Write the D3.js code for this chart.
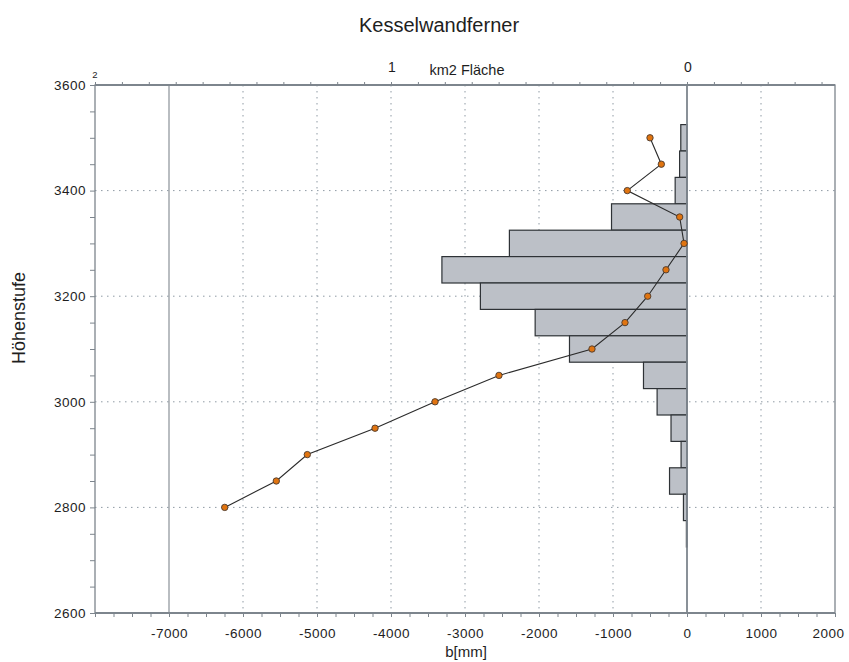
<!DOCTYPE html>
<html><head><meta charset="utf-8">
<script src="https://cdn.jsdelivr.net/npm/d3@7"></script>
<style>body{margin:0;background:#fff}svg{display:block}text{font-family:"Liberation Sans",Arial,sans-serif}</style>
</head><body>
<svg id="c" width="849" height="662"></svg>
<script>
// Elevation bands (m) and glacier area per band (km2)
const bandElev = [3500,3450,3400,3350,3300,3250,3200,3150,3100,3050,3000,2950,2900,2850,2800,2750];
const bandArea = [0.021,0.025,0.040,0.255,0.600,0.828,0.698,0.513,0.397,0.147,0.101,0.054,0.020,0.059,0.012,0.002];
// Specific mass balance per band (mm)
const balElev = [3500,3450,3400,3350,3300,3250,3200,3150,3100,3050,3000,2950,2900,2850,2800];
const balValue = [-500,-347,-807,-99,-40,-284,-531,-838,-1284,-2541,-3405,-4216,-5131,-5550,-6247];
// Tick labels
const xTickLabels = [-7000,-6000,-5000,-4000,-3000,-2000,-1000,0,1000,2000];
const yTickLabels = [2600,2800,3000,3200,3400,3600];
const topTickLabels = [2,1,0];
const xGridValues = [-6000,-5000,-4000,-3000,-2000,-1000,1000];
const yGridValues = [2800,3000,3200,3400];

const svg = d3.select("#c");
const L=95,R=835,T=85,B=613;
const x = d3.scaleLinear().domain([-8000,2000]).range([L,R]);
const xa = d3.scaleLinear().domain([2,-0.5]).range([L,R]);
const y = d3.scaleLinear().domain([2600,3600]).range([B,T]);
const axisCol = "#7d858d", gridCol="#8f9aa4", txtCol="#1e1e1e";

// Title
svg.append("text").attr("x",439).attr("y",32).attr("text-anchor","middle").attr("font-size",20).attr("fill",txtCol).text("Kesselwandferner");

// grid
svg.append("g").selectAll("line").data(xGridValues).join("line")
  .attr("x1",d=>x(d)).attr("x2",d=>x(d)).attr("y1",T).attr("y2",B)
  .attr("stroke",gridCol).attr("stroke-width",1).attr("stroke-dasharray","1.5,4.5");
svg.append("g").selectAll("line").data(yGridValues).join("line")
  .attr("x1",L).attr("x2",R).attr("y1",d=>y(d)).attr("y2",d=>y(d))
  .attr("stroke",gridCol).attr("stroke-width",1).attr("stroke-dasharray","1.5,4.5");
// solid -7000 line
svg.append("line").attr("x1",x(-7000)).attr("x2",x(-7000)).attr("y1",T).attr("y2",B).attr("stroke","#8a9198").attr("stroke-width",1.2);

// bars
svg.append("g").selectAll("rect").data(bandElev).join("rect")
  .attr("x",(d,i)=>xa(bandArea[i])).attr("width",(d,i)=>xa(0)-xa(bandArea[i]))
  .attr("y",d=>y(d+25)).attr("height",d=>y(d-25)-y(d+25))
  .attr("fill","#bcc0c7").attr("stroke","#2e3236").attr("stroke-width",1.2);

// zero line
svg.append("line").attr("x1",x(0)).attr("x2",x(0)).attr("y1",T).attr("y2",B).attr("stroke","#7d858d").attr("stroke-width",1.8);

// frame
svg.append("rect").attr("x",L).attr("y",T).attr("width",R-L).attr("height",B-T).attr("fill","none").attr("stroke",axisCol).attr("stroke-width",1.3);
svg.append("line").attr("x1",L).attr("x2",R).attr("y1",T).attr("y2",T).attr("stroke",axisCol).attr("stroke-width",2);
svg.append("line").attr("x1",L).attr("x2",R).attr("y1",B).attr("y2",B).attr("stroke",axisCol).attr("stroke-width",2);

// bottom axis
const minorX = d3.range(-8000,2001,250);
const bx = d3.axisBottom(x).tickValues(minorX).tickSize(4).tickFormat(d=>xTickLabels.includes(d)?d:"");
const gb = svg.append("g").attr("transform",`translate(0,${B})`).call(bx);
gb.select(".domain").remove();
gb.selectAll(".tick line").attr("stroke",axisCol);
gb.selectAll(".tick text").attr("font-size",13.5).attr("letter-spacing",0.5).attr("fill",txtCol).attr("y",25).attr("dy",0)
  .attr("x",d=>d===2000?-7:0);
svg.append("text").attr("x",466).attr("y",657).attr("text-anchor","middle").attr("font-size",15).attr("fill",txtCol).text("b[mm]");

// left axis
const minorY = d3.range(2600,3601,50);
const ly = d3.axisLeft(y).tickValues(minorY).tickSize(5).tickFormat(d=>yTickLabels.includes(d)?d:"");
const gl = svg.append("g").attr("transform",`translate(${L},0)`).call(ly);
gl.select(".domain").remove();
gl.selectAll(".tick line").attr("stroke",axisCol);
gl.selectAll(".tick text").attr("font-size",13.5).attr("letter-spacing",0.5).attr("fill",txtCol).attr("x",-9);
svg.append("text").attr("transform","translate(25,318) rotate(-90)").attr("text-anchor","middle").attr("font-size",18).attr("fill",txtCol).text("Höhenstufe");

// top axis (area)
const minorTop = d3.range(0,28).map(i=>2-i/11);
const ta = d3.axisTop(xa).tickValues(minorTop).tickSize(3).tickFormat("");
const gt = svg.append("g").attr("transform",`translate(0,${T})`).call(ta);
gt.select(".domain").remove();
gt.selectAll(".tick line").attr("stroke",axisCol);
svg.append("g").selectAll("text").data(topTickLabels).join("text")
  .attr("x",d=>xa(d)+(d===2?0:1)).attr("y",d=>d===2?78:72).attr("text-anchor","middle")
  .attr("font-size",d=>d===2?9.5:14).attr("fill",txtCol).text(d=>d);
svg.append("text").attr("x",467).attr("y",75).attr("text-anchor","middle").attr("font-size",14.5).attr("fill",txtCol).text("km2 Fläche");

// balance line + points
const pts = balElev.map((e,i)=>[x(balValue[i]),y(e)]);
svg.append("path").attr("d",d3.line()(pts)).attr("fill","none").attr("stroke","#2b2b2b").attr("stroke-width",1.1);
svg.append("g").selectAll("circle").data(balElev).join("circle")
  .attr("cx",(d,i)=>x(balValue[i])).attr("cy",d=>y(d)).attr("r",3.2)
  .attr("fill","#e07410").attr("stroke","#4a3a30").attr("stroke-width",0.9);
</script>
</body></html>
